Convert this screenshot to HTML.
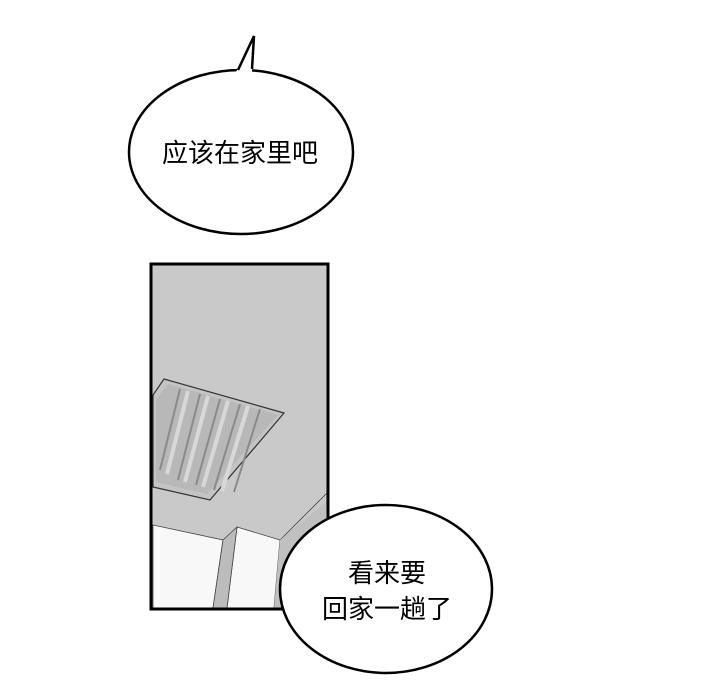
<!DOCTYPE html>
<html><head><style>body{margin:0;background:#fff}svg{display:block}</style></head><body>
<svg width="720" height="700" viewBox="0 0 720 700" xmlns="http://www.w3.org/2000/svg">
<rect x="0" y="0" width="720" height="700" fill="#fff"/>
<rect x="151" y="264" width="177" height="345" fill="#c9c9c9"/>
<polygon points="164,379 284,413 210,500 153,487 153,395" fill="#c4c4c4" stroke="#333" stroke-width="1.2"/>
<polygon points="168,384 278,415 207,494 156,482 156,400" fill="#b8b8b8"/>
<g stroke="#8a8a8a" stroke-width="2" fill="none">
<line x1="180" y1="389" x2="160" y2="470"/>
<line x1="200" y1="394" x2="178" y2="480"/>
<line x1="220" y1="399" x2="196" y2="485"/>
<line x1="240" y1="404" x2="214" y2="490"/>
<line x1="260" y1="409" x2="234" y2="492"/>
</g>
<g stroke="#d8d8d8" stroke-width="4" fill="none">
<line x1="188" y1="391" x2="167" y2="474"/>
<line x1="208" y1="396" x2="185" y2="482"/>
<line x1="228" y1="401" x2="203" y2="487"/>
<line x1="248" y1="406" x2="222" y2="491"/>
</g>
<polygon points="153,525 223,540 213,608 153,608" fill="#f8f8f8" stroke="#444" stroke-width="0.8"/>
<polygon points="237,527 280,540 274,608 227,608" fill="#f8f8f8" stroke="#444" stroke-width="0.8"/>
<polygon points="223,540 237,527 227,608 213,608" fill="#bcbcbc" stroke="#444" stroke-width="0.8"/>
<line x1="280" y1="540" x2="328" y2="492" stroke="#444" stroke-width="0.8"/>
<polygon points="280,540 328,500 328,608 274,608" fill="#c0c0c0"/>
<rect x="151" y="264" width="177" height="345" fill="none" stroke="#000" stroke-width="3"/>
<ellipse cx="241" cy="152" rx="112" ry="82" fill="#fff" stroke="#000" stroke-width="2.5"/>
<polygon points="236,72 254,36 252,72" fill="#fff"/>
<polyline points="238,70 254,36 252,69" fill="none" stroke="#000" stroke-width="2.5"/>
<text x="240" y="162" font-family="Liberation Sans, Noto Sans CJK SC, sans-serif" font-size="26" text-anchor="middle">应该在家里吧</text>
<ellipse cx="386" cy="589" rx="106" ry="84" fill="#fff" stroke="#000" stroke-width="2.5"/>
<text x="387" y="582" font-family="Liberation Sans, Noto Sans CJK SC, sans-serif" font-size="26" text-anchor="middle">看来要</text>
<text x="387" y="618" font-family="Liberation Sans, Noto Sans CJK SC, sans-serif" font-size="26" text-anchor="middle">回家一趟了</text>
</svg>
</body></html>
